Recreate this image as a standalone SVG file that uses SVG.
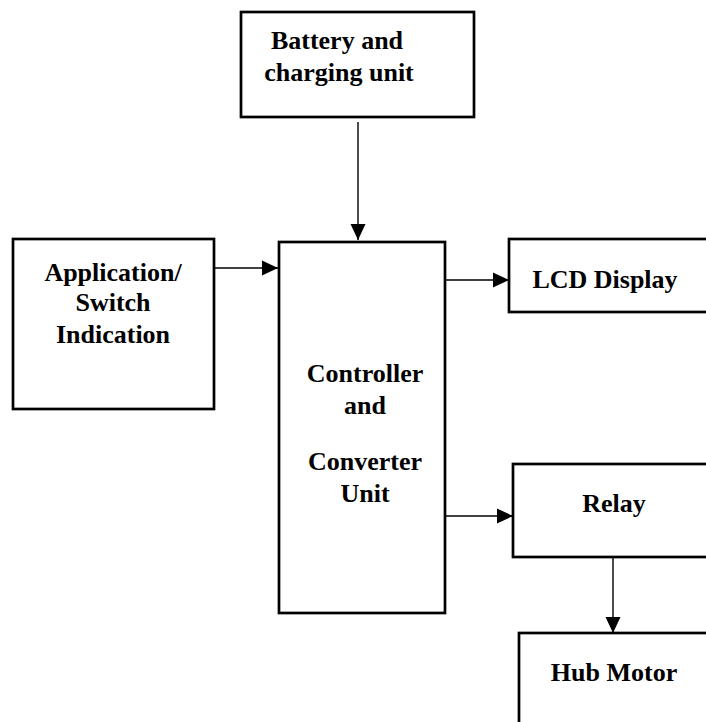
<svg xmlns="http://www.w3.org/2000/svg" width="706" height="722" viewBox="0 0 706 722">
<style>
.box{fill:#fff;stroke:#000;stroke-width:2.7}
.lbl{font-family:"Liberation Serif","Times New Roman",serif;font-weight:bold;font-size:26px;fill:#000;text-anchor:middle}
.conn{fill:none;stroke:#000;stroke-width:1.4}
</style>
<defs>
<marker id="arr" markerUnits="userSpaceOnUse" markerWidth="16" markerHeight="16" refX="16" refY="8" orient="auto">
<path d="M0,0.5 L16,8 L0,15.5 z" fill="#000"/>
</marker>
</defs>
<rect width="706" height="722" fill="#fff"/>
<g id="battery">
<rect class="box" x="241" y="12" width="233" height="105"/>
<text class="lbl" x="337" y="49">Battery and</text>
<text class="lbl" x="339" y="81">charging unit</text>
</g>
<g id="application">
<rect class="box" x="13" y="239" width="201" height="170"/>
<text class="lbl" x="113" y="281">Application/</text>
<text class="lbl" x="113" y="311">Switch</text>
<text class="lbl" x="113" y="343">Indication</text>
</g>
<g id="controller">
<rect class="box" x="279" y="242" width="166" height="371"/>
<text class="lbl" x="365" y="382">Controller</text>
<text class="lbl" x="365" y="414">and</text>
<text class="lbl" x="365" y="470">Converter</text>
<text class="lbl" x="365" y="502">Unit</text>
</g>
<g id="lcd">
<rect class="box" x="509" y="239" width="220" height="73"/>
<text class="lbl" x="605" y="288">LCD Display</text>
</g>
<g id="relay">
<rect class="box" x="513" y="464" width="220" height="93"/>
<text class="lbl" x="614" y="512">Relay</text>
</g>
<g id="hub">
<rect class="box" x="519" y="633" width="220" height="110"/>
<text class="lbl" x="614" y="681">Hub Motor</text>
</g>
<g id="connectors">
<path class="conn" d="M358,122 V240" marker-end="url(#arr)"/>
<path class="conn" d="M214,268 H278" marker-end="url(#arr)"/>
<path class="conn" d="M445,280 H509" marker-end="url(#arr)"/>
<path class="conn" d="M445,516 H513" marker-end="url(#arr)"/>
<path class="conn" d="M613,558 V633" marker-end="url(#arr)"/>
</g>
</svg>
